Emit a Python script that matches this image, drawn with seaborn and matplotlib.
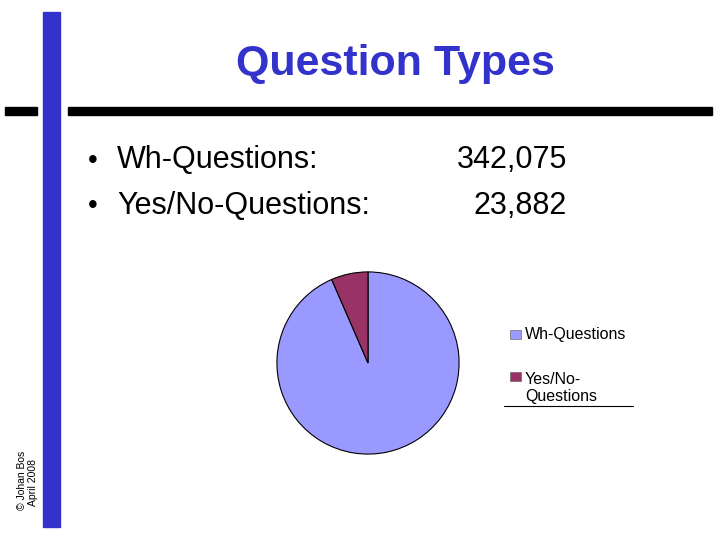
import matplotlib
matplotlib.use("Agg")
import matplotlib.pyplot as plt
import seaborn as sns
from matplotlib.patches import Rectangle
from matplotlib.lines import Line2D

# data
categories = ["Wh-Questions", "Yes/No-Questions"]
counts = [342075, 23882]
count_labels = ["342,075", "23,882"]
legend_labels = ["Wh-Questions", "Yes/No-\nQuestions"]
pie_colors = ["#9999FF", "#993366"]

sns.set_style("white")
plt.rcParams['font.family'] = ['Liberation Sans', 'DejaVu Sans']
plt.rcParams['text.color'] = 'black'

W, H = 720, 540
fig = plt.figure(figsize=(7.2, 5.4), dpi=100)
fig.patch.set_facecolor("white")

def fx(x):
    return x / W

def fy(y):
    return 1 - y / H

slide_blue = "#3333CC"

# slide decoration: vertical blue bar and black rules
fig.patches.append(Rectangle((fx(43), fy(527)), fx(17), (527 - 12) / H,
                             transform=fig.transFigure, color=slide_blue, zorder=2))
fig.patches.append(Rectangle((fx(5), fy(115)), fx(32), 8 / H,
                             transform=fig.transFigure, color="black", zorder=1))
fig.patches.append(Rectangle((fx(68), fy(115)), fx(644), 8 / H,
                             transform=fig.transFigure, color="black", zorder=1))

fig.text(fx(395), fy(75), "Question Types", ha="center", va="baseline",
         fontsize=31, fontweight="bold", color=slide_blue)

# bullet lines with counts
for i, (cat, lab) in enumerate(zip(["Wh-Questions:", "Yes/No-Questions:"], count_labels)):
    y = 168 + i * 45.5
    fig.text(fx(88), fy(y), "\u2022", ha="left", va="baseline", fontsize=20)
    fig.text(fx(117), fy(y), cat, ha="left", va="baseline", fontsize=22)
    fig.text(fx(567), fy(y), lab, ha="right", va="baseline", fontsize=22)

# copyright
fig.text(fx(22), fy(480), "\u00a9 Johan Bos", rotation=90, ha="center", va="center", fontsize=7.5)
fig.text(fx(33), fy(483), "April 2008", rotation=90, ha="center", va="center", fontsize=7.5)

# pie
cx, cy, r = 368, 363, 92
ax = fig.add_axes([fx(cx - r), fy(cy + r), 2 * r / W, 2 * r / H])
colors = sns.color_palette(pie_colors)
wedges, _ = ax.pie(counts, colors=colors, startangle=90, counterclock=False,
                   wedgeprops=dict(edgecolor="black", linewidth=0.8))
ax.set_xlim(-1.01, 1.01)
ax.set_ylim(-1.01, 1.01)
ax.set_aspect("equal")
ax.axis("off")

# legend, laid out like the original slide
# (baseline of last text line, top of swatch)
leg_rows = [(339, 330), (401, 372)]
for (base, top), lab, col in zip(leg_rows, legend_labels, colors):
    fig.patches.append(Rectangle((fx(510), fy(top + 9)), 11 / W, 9 / H,
                                 transform=fig.transFigure, facecolor=col,
                                 edgecolor="#555555", linewidth=0.4))
    fig.text(fx(525), fy(base), lab, ha="left", va="baseline",
             fontsize=11.5, linespacing=1.15)

fig.lines.append(Line2D([fx(504), fx(633)], [fy(406), fy(406)],
                        transform=fig.transFigure, color="black", linewidth=0.8))

fig.savefig("out.png", dpi=100)
